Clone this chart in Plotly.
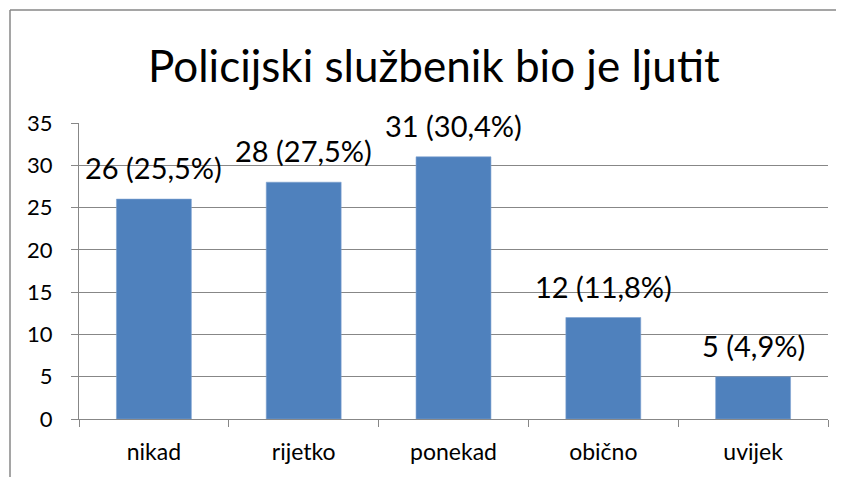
import plotly.graph_objects as go

categories = ["nikad", "rijetko", "ponekad", "obično", "uvijek"]
counts = [26, 28, 31, 12, 5]
percents = ["25,5%", "27,5%", "30,4%", "11,8%", "4,9%"]
y_ticks = [0, 5, 10, 15, 20, 25, 30, 35]
title_text = "Policijski službenik bio je ljutit"

FONT = "Lato"
GRAY = "#878787"
BAR = "#4F81BD"

# page body has an 8px margin; shift the figure so it fits the 844x477 window
OFF = 8
W, H = 844 - OFF, 477 - OFF
L, R, T, B = 79 - OFF, 16, 123 - OFF, 58
pw = W - L - R
ph = H - T - B

fig = go.Figure()
fig.add_trace(go.Bar(
    x=categories, y=counts, width=0.5,
    marker=dict(color=BAR, line=dict(color="#7EA1D0", width=0.6)),
    hoverinfo="skip",
))

for c, v, p in zip(categories, counts, percents):
    fig.add_annotation(x=c, y=v, xref="x", yref="y", text=f"{v} ({p})",
                       showarrow=False, yanchor="bottom", yshift=12,
                       font=dict(family=FONT, size=29, color="#000000"))

fig.add_annotation(xref="paper", yref="paper", x=(434 - 79) / pw, y=1 + (123 - 65) / ph,
                   text=title_text, showarrow=False, xanchor="center", yanchor="middle",
                   font=dict(family=FONT, size=44, color="#000000"))

# outer chart border: only its left and top edges fall inside the picture
bx0 = (10 - 79) / pw
by1 = 1 + (123 - 10) / ph
fig.add_shape(type="line", xref="paper", yref="paper",
              x0=bx0, x1=bx0, y0=-0.3, y1=by1,
              line=dict(color=GRAY, width=1.5), layer="below")
fig.add_shape(type="line", xref="paper", yref="paper",
              x0=bx0, x1=1.2, y0=by1, y1=by1,
              line=dict(color=GRAY, width=1.5), layer="below")

fig.update_layout(
    width=W, height=H,
    margin=dict(l=L, r=R, t=T, b=B),
    paper_bgcolor="white", plot_bgcolor="white",
    showlegend=False,
    font=dict(family=FONT, color="#000000"),
    bargap=0.5,
)
fig.update_xaxes(
    type="category", showline=True, linecolor=GRAY, linewidth=1,
    ticks="outside", tickson="boundaries", ticklen=7, tickcolor=GRAY,
    tickfont=dict(family=FONT, size=23, color="#000000"),
    ticklabelstandoff=12, showgrid=False,
)
fig.update_yaxes(
    range=[0, 35], tickvals=y_ticks, showline=True, linecolor=GRAY, linewidth=1,
    ticks="outside", ticklen=7, tickcolor=GRAY,
    showgrid=True, gridcolor=GRAY, gridwidth=1, zeroline=False,
    tickfont=dict(family=FONT, size=22, color="#000000"),
    ticklabelstandoff=14,
)

fig.write_html(
    "out.html",
    post_script="document.documentElement.style.overflow='hidden';document.body.style.overflow='hidden';",
)
